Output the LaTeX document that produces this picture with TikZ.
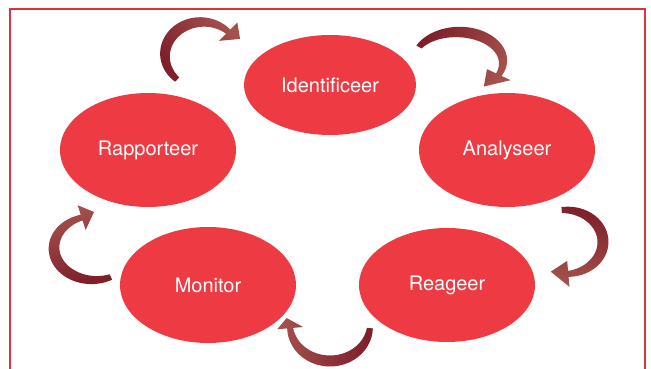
\documentclass[tikz,border=0pt]{standalone}
\usepackage{fontspec}
\setmainfont{TeX Gyre Heros}
\usetikzlibrary{shapes.geometric}

\definecolor{stagered}{HTML}{EE3B43}
\definecolor{framered}{HTML}{D8363D}
\definecolor{arrowdark}{HTML}{7E1F2A}
\definecolor{arrowlight}{HTML}{A5514D}

% Curved, tapered block arrow running clockwise along an ellipse.
% #1,#2 centre; #3,#4 radii; #5 tail angle; #6 head-base angle;
% #7 tip angle; #8 extra radius of the tip; #9 shading angle
\newcommand{\cyclearrow}[9]{%
  \shade[top color=arrowlight, bottom color=arrowdark, shading angle=#9]
    plot[domain=#5:#6, samples=40, variable=\t]
      ({#1+(#3+3+2.5*sin(((\t-(#5))/((#6)-(#5)))*180))*cos(\t)},
       {#2+(#4+3+2.5*sin(((\t-(#5))/((#6)-(#5)))*180))*sin(\t)})
    -- ({#1+(#3+13)*cos(#6)},{#2+(#4+13)*sin(#6)})
    -- ({#1+(#3+#8)*cos(#7)},{#2+(#4+#8)*sin(#7)})
    -- ({#1+(#3-13)*cos(#6)},{#2+(#4-13)*sin(#6)})
    -- plot[domain=#6:#5, samples=40, variable=\t]
      ({#1+(#3-3-2.5*sin(((\t-(#5))/((#6)-(#5)))*180))*cos(\t)},
       {#2+(#4-3-2.5*sin(((\t-(#5))/((#6)-(#5)))*180))*sin(\t)})
    -- cycle;}

\tikzset{
  stage/.style={ellipse, fill=stagered, text=white, inner sep=0pt,
    minimum width=176, minimum height=114,
    font=\fontsize{20}{24}\selectfont},
  frame/.style={draw=framered, line width=1.5}
}

\begin{document}
\begin{tikzpicture}[x=1pt,y=1pt]
  \useasboundingbox (0,0) rectangle (651,369);

  % open frame (no bottom edge)
  \draw[frame] (10,0) -- (10,360) -- (645,360) -- (645,0);

  % the five stages of the cycle
  \node[stage, minimum width=172, minimum height=100] (ident) at (330,284) {Identificeer};
  \node[stage] (analyse) at (507,219) {Analyseer};
  \node[stage] (react)   at (447,84)  {Reageer};
  \node[stage, minimum height=116] (monitor) at (208,84) {Monitor};
  \node[stage] (report)  at (148,219) {Rapporteer};

  % curved arrows between consecutive stages
  \cyclearrow{202}{314}{37}{33}{228}{45}{25}{5}{-55}    % report -> ident
  \cyclearrow{458}{307}{45}{30}{150}{-25}{-55}{0}{-120} % ident -> analyse
  \cyclearrow{565}{127}{38}{32}{95}{-85}{-112}{0}{-190} % analyse -> react
  \cyclearrow{330}{44}{40}{36}{-5}{-175}{-190}{4}{83}   % react -> monitor
  \cyclearrow{94}{121}{40}{32}{-65}{-252}{-270}{4}{17}  % monitor -> report
\end{tikzpicture}
\end{document}
